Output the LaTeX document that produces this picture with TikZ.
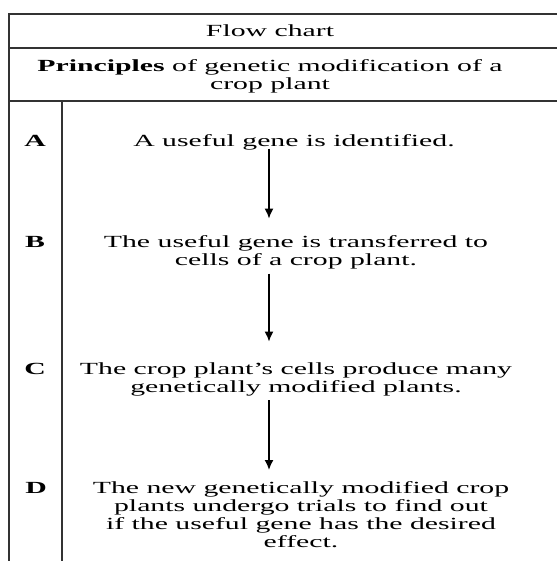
\documentclass[tikz,border=0pt]{standalone}
\usepackage{fontspec}
\setmainfont{Liberation Serif}[FakeStretch=1.75]
\usetikzlibrary{arrows.meta}

\newcommand\flowfont{\fontsize{17bp}{18bp}\selectfont}

\tikzset{
  rule/.style={line width=1.8bp, black!80},
  rowlabel/.style={font=\flowfont\bfseries, anchor=north, inner sep=0pt},
  steptext/.style={font=\flowfont, align=center, anchor=north, inner sep=0pt},
  flow/.style={-{Latex[length=10bp,width=9bp]}, line width=1.6bp},
}

\begin{document}
\begin{tikzpicture}[x=1bp, y=-1bp]
  \useasboundingbox (0,0) rectangle (557,561);

  % table rules
  \draw[rule] (557,14) -- (9,14) -- (9,561);
  \draw[rule] (9,48) -- (557,48);
  \draw[rule] (9,101) -- (557,101);
  \draw[rule] (62,101) -- (62,561);

  % headings
  \node[steptext] (head) at (270,24.6) {Flow chart};
  \node[steptext] (title) at (270,59.6) {\textbf{Principles} of genetic modification of a\\crop plant};

  % steps
  \node[rowlabel] (la) at (35,135) {A};
  \node[steptext] (ta) at (294,134.6) {A useful gene is identified.};

  \node[rowlabel] (lb) at (35,236) {B};
  \node[steptext] (tb) at (296,235.6) {The useful gene is transferred to\\cells of a crop plant.};

  \node[rowlabel] (lc) at (35,363) {C};
  \node[steptext] (tc) at (296,362.6) {The crop plant's cells produce many\\genetically modified plants.};

  \node[rowlabel] (ld) at (36,482) {D};
  \node[steptext] (td) at (301,481.6) {The new genetically modified crop\\plants undergo trials to find out\\if the useful gene has the desired\\effect.};

  % arrows
  \coordinate (ax) at (269,0);
  \draw[flow, shorten <=-2bp, shorten >=17bp] (ta.south -| ax) -- (tb.north -| ax);
  \draw[flow, shorten <=4bp, shorten >=21bp] (tb.south -| ax) -- (tc.north -| ax);
  \draw[flow, shorten <=4bp, shorten >=11.6bp] (tc.south -| ax) -- (td.north -| ax);
\end{tikzpicture}
\end{document}
